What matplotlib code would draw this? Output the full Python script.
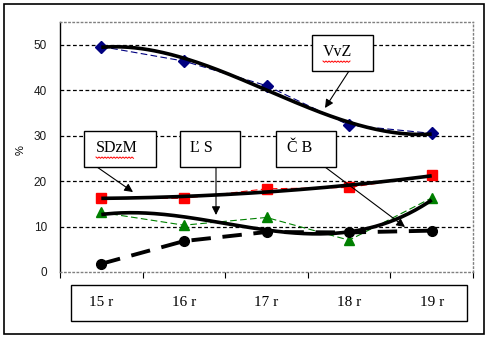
import numpy as np
import matplotlib
matplotlib.use("Agg")
import matplotlib.pyplot as plt
from matplotlib.patches import Rectangle, FancyArrowPatch
from matplotlib.lines import Line2D

years = ["15 r", "16 r", "17 r", "18 r", "19 r"]
vvz = [49.6, 46.4, 41.0, 32.3, 30.5]
sdzm = [16.3, 16.2, 18.3, 18.6, 21.3]
ls_ = [13.1, 10.3, 12.0, 7.0, 16.3]
cb = [1.8, 6.8, 8.8, 8.7, 9.1]

W, H = 488, 340
fig = plt.figure(figsize=(W / 100, H / 100), dpi=100)
fig.patch.set_facecolor("white")


def fx(x):
    return np.asarray(x) / W


def fy(y):
    return 1 - np.asarray(y) / H


# outer chart frame
fig.add_artist(Rectangle((fx(4), fy(334)), fx(480), 330 / H, transform=fig.transFigure,
                         fill=False, edgecolor="black", lw=1.2))

ax = fig.add_axes([fx(60), fy(272), fx(413), 250 / H])
ax.set_xlim(0, 5)
ax.set_ylim(0, 55)
xs = np.arange(5) + 0.5

for v in [10, 20, 30, 40, 50]:
    ax.axhline(v, color="black", lw=0.9, ls=(0, (3, 2)), zorder=1)

for s in ["top", "right", "bottom"]:
    ax.spines[s].set_color("gray")
    ax.spines[s].set_linestyle((0, (1, 2)))
    ax.spines[s].set_linewidth(1)
ax.spines["left"].set_color("black")
ax.spines["left"].set_linestyle("-")
ax.spines["left"].set_linewidth(1)

ax.set_yticks([0, 10, 20, 30, 40, 50])
ax.set_yticklabels(["0", "10", "20", "30", "40", "50"], fontsize=8.5,
                   fontfamily="Liberation Sans", color="#1a1a1a")
ax.tick_params(axis="y", length=0, pad=9.5)
ax.set_xticks(np.arange(6))
ax.set_xticklabels([])
ax.tick_params(axis="x", direction="out", length=4, color="black")

# thin dashed series lines with markers
ax.plot(xs, vvz, color="#000080", lw=0.8, ls=(0, (6, 3)), marker="D", ms=6,
        mfc="#000080", mec="#000080", zorder=4)
ax.plot(xs, sdzm, color="red", lw=0.8, ls=(0, (6, 3)), marker="s", ms=7,
        mfc="red", mec="red", zorder=4)
ax.plot(xs, ls_, color="green", lw=0.8, ls=(0, (6, 3)), marker="^", ms=7,
        mfc="green", mec="green", zorder=4)
ax.plot(xs, cb, color="black", lw=2.8, ls=(0, (5, 3)), marker="o", ms=7,
        mfc="black", mec="black", zorder=5)

# polynomial trend lines
xx = np.linspace(xs[0], xs[-1], 200)
for vals, deg in [(vvz, 3), (sdzm, 2), (ls_, 3)]:
    c = np.polyfit(xs, vals, deg)
    ax.plot(xx, np.polyval(c, xx), color="black", lw=2.6, zorder=6,
            solid_capstyle="butt")

# percent axis label
fig.text(fx(21), fy(150), "%", rotation=90, fontsize=8, ha="center", va="center",
         fontfamily="Liberation Sans")


def label_box(x0, y0, x1, y1, text, tx, squiggle=False):
    fig.add_artist(Rectangle((fx(x0), fy(y1)), fx(x1 - x0), (y1 - y0) / H,
                             transform=fig.transFigure, facecolor="white",
                             edgecolor="black", lw=1, zorder=10))
    fig.text(fx(tx), fy((y0 + y1) / 2 - 1), text, fontsize=11.5,
             fontfamily="Liberation Serif", ha="left", va="center", zorder=11)
    if squiggle:
        n = len(text)
        w = 9.5 * n if n > 3 else 9.3 * n
        px = np.arange(tx, tx + w, 1.5)
        py = (y0 + y1) / 2 + 8 + np.where(np.arange(len(px)) % 2 == 0, 0, 1.3)
        fig.add_artist(Line2D(fx(px), fy(py), transform=fig.transFigure,
                              color="red", lw=0.7, zorder=11))


def arrow(x0, y0, x1, y1):
    fig.add_artist(FancyArrowPatch(
        (fx(x0), fy(y0)), (fx(x1), fy(y1)), transform=fig.transFigure,
        arrowstyle="-|>,head_length=5,head_width=2.5", color="black", lw=0.8,
        shrinkA=0, shrinkB=0, zorder=9))


label_box(312, 35, 373, 71, "VvZ", 323, squiggle=True)
arrow(349, 71, 325, 108)
label_box(84, 131, 156, 167, "SDzM", 96, squiggle=True)
arrow(97, 167, 133, 192)
label_box(180, 131, 240, 167, "Ľ S", 190)
arrow(216, 167, 216, 215)
label_box(276, 131, 336, 167, "Č B", 287)
arrow(325, 167, 405, 227)

# category label panel
fig.add_artist(Rectangle((fx(71), fy(321)), fx(396), 36 / H, transform=fig.transFigure,
                         facecolor="white", edgecolor="black", lw=1, zorder=10))
for i, yr in enumerate(years):
    x_disp = ax.transData.transform((xs[i], 0))[0]
    fig.text(x_disp / W, fy(302), yr, fontsize=11, fontfamily="Liberation Serif",
             ha="center", va="center", zorder=11)

fig.savefig("out.png", dpi=100)
